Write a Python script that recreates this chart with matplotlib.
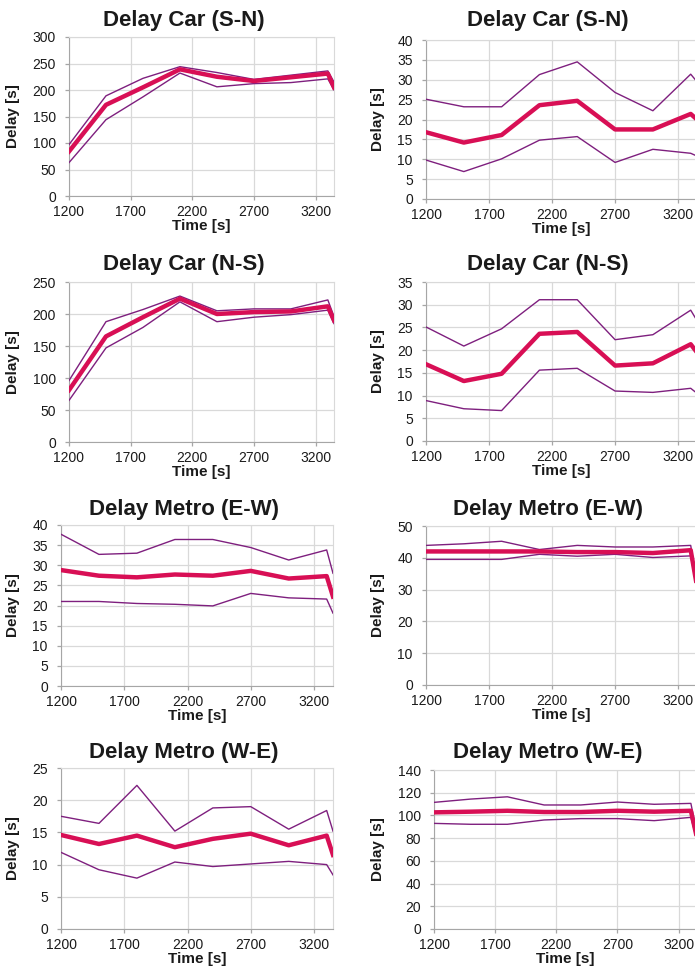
import matplotlib.pyplot as plt

plt.rcParams['font.family'] = ['Liberation Sans', 'DejaVu Sans']

time_s = [1200, 1500, 1800, 2100, 2400, 2700, 3000, 3300, 3350]
x_ticks = [1200, 1700, 2200, 2700, 3200]

titles = ['Delay Car (S-N)', 'Delay Car (S-N)',
          'Delay Car (N-S)', 'Delay Car (N-S)',
          'Delay Metro (E-W)', 'Delay Metro (E-W)',
          'Delay Metro (W-E)', 'Delay Metro (W-E)']

# left column
car_sn_mean = [84, 172, 205, 239, 225, 217, 224, 231, 205]
car_sn_upper = [97, 189, 222, 244, 233, 220, 228, 236, 215]
car_sn_lower = [63, 144, 187, 232, 206, 212, 214, 221, 200]

car_ns_mean = [81, 165, 195, 224, 200, 203, 204, 212, 190]
car_ns_upper = [96, 188, 207, 228, 205, 208, 208, 222, 196]
car_ns_lower = [65, 147, 179, 219, 188, 195, 199, 206, 185]

metro_ew_mean = [28.8, 27.4, 27.0, 27.7, 27.4, 28.6, 26.7, 27.3, 22.2]
metro_ew_upper = [37.7, 32.7, 33.0, 36.4, 36.4, 34.4, 31.3, 33.8, 28.0]
metro_ew_lower = [21.0, 21.0, 20.5, 20.3, 19.9, 23.0, 21.9, 21.6, 18.1]

metro_we_mean = [14.6, 13.2, 14.5, 12.7, 14.0, 14.8, 13.0, 14.5, 11.5]
metro_we_upper = [17.5, 16.4, 22.3, 15.2, 18.8, 19.0, 15.5, 18.4, 15.2]
metro_we_lower = [11.9, 9.2, 7.9, 10.4, 9.7, 10.1, 10.5, 10.0, 8.4]

# right column
car_sn_mean_r = [16.8, 14.2, 16.1, 23.6, 24.7, 17.5, 17.5, 21.4, 20.0]
car_sn_upper_r = [25.1, 23.2, 23.2, 31.3, 34.5, 26.8, 22.2, 31.4, 29.5]
car_sn_lower_r = [9.8, 6.9, 10.1, 14.8, 15.7, 9.2, 12.5, 11.5, 10.8]

car_ns_mean_r = [16.9, 13.2, 14.8, 23.6, 24.0, 16.6, 17.1, 21.3, 19.5]
car_ns_upper_r = [25.1, 20.9, 24.7, 31.1, 31.1, 22.3, 23.4, 28.8, 26.5]
car_ns_lower_r = [8.9, 7.1, 6.7, 15.6, 16.0, 11.0, 10.7, 11.6, 10.5]

metro_ew_mean_r = [42.0, 42.0, 42.0, 42.0, 41.8, 41.8, 41.5, 42.4, 31.0]
metro_ew_upper_r = [43.9, 44.4, 45.2, 42.6, 43.9, 43.4, 43.4, 43.9, 32.0]
metro_ew_lower_r = [39.5, 39.5, 39.5, 41.1, 40.5, 41.1, 40.1, 40.6, 30.0]

metro_we_mean_r = [102.7, 103.3, 104.1, 103.0, 103.0, 104.1, 103.3, 104.1, 80.0]
metro_we_upper_r = [111.5, 114.4, 116.4, 109.2, 109.2, 111.8, 109.8, 110.6, 84.0]
metro_we_lower_r = [93.0, 92.2, 92.2, 96.0, 97.2, 97.2, 95.4, 98.3, 78.0]

panels = [
    (car_sn_mean, car_sn_upper, car_sn_lower, 300, 50),
    (car_sn_mean_r, car_sn_upper_r, car_sn_lower_r, 40, 5),
    (car_ns_mean, car_ns_upper, car_ns_lower, 250, 50),
    (car_ns_mean_r, car_ns_upper_r, car_ns_lower_r, 35, 5),
    (metro_ew_mean, metro_ew_upper, metro_ew_lower, 40, 5),
    (metro_ew_mean_r, metro_ew_upper_r, metro_ew_lower_r, 50, 10),
    (metro_we_mean, metro_we_upper, metro_we_lower, 25, 5),
    (metro_we_mean_r, metro_we_upper_r, metro_we_lower_r, 140, 20),
]

W, H = 695, 967
# plot boxes in pixels: left, top, right, bottom
boxes = [(69, 37, 334, 196), (426, 40, 697, 199),
         (69, 282, 334, 442), (426, 282, 697, 441),
         (61, 525, 333, 686), (426, 526, 697, 685),
         (61, 768, 333, 929), (434, 770, 697, 929)]
title_base = [26, 26, 270, 270, 515, 515, 758, 758]

MEAN_C = '#D80F55'
BOUND_C = '#7E1F7E'
TEXT_C = '#1a1a1a'

fig = plt.figure(figsize=(W / 100, H / 100), dpi=100, facecolor='white')

for i, (mean, upper, lower, ymax, ystep) in enumerate(panels):
    l, t, r, b = boxes[i]
    ax = fig.add_axes([l / W, 1 - b / H, (r - l) / W, (b - t) / H])
    ax.plot(time_s, upper, color=BOUND_C, linewidth=1.0, zorder=3)
    ax.plot(time_s, lower, color=BOUND_C, linewidth=1.0, zorder=3)
    ax.plot(time_s, mean, color=MEAN_C, linewidth=3.2, zorder=4)

    ax.set_xlim(1200, 3350)
    ax.set_ylim(0, ymax)
    ax.set_xticks(x_ticks)
    ax.set_yticks(list(range(0, ymax + 1, ystep)))
    ax.grid(True, color='#d9d9d9', linewidth=0.9, zorder=0)
    ax.set_axisbelow(True)

    for s in ['left', 'bottom']:
        ax.spines[s].set_color('#a6a6a6')
    for s in ['top', 'right']:
        ax.spines[s].set_color('#d9d9d9')
    ax.tick_params(axis='both', length=3, width=0.9, color='#a6a6a6',
                   labelsize=10, labelcolor=TEXT_C)
    ax.tick_params(axis='x', pad=3.5)
    ax.tick_params(axis='y', pad=6.5)

    ax.set_xlabel('Time [s]', fontsize=11, fontweight='bold', color=TEXT_C, labelpad=0.2)
    ylab_x = 20 if i % 2 == 0 else 385
    ax.set_ylabel('Delay [s]', fontsize=11, fontweight='bold', color=TEXT_C)
    ax.yaxis.set_label_coords((ylab_x - l) / (r - l), 0.5)

    tx = 184 if i % 2 == 0 else 548
    fig.text(tx / W, 1 - title_base[i] / H, titles[i], fontsize=16, fontweight='bold',
             color=TEXT_C, ha='center', va='baseline')

fig.savefig('out.png', dpi=100, facecolor='white')
